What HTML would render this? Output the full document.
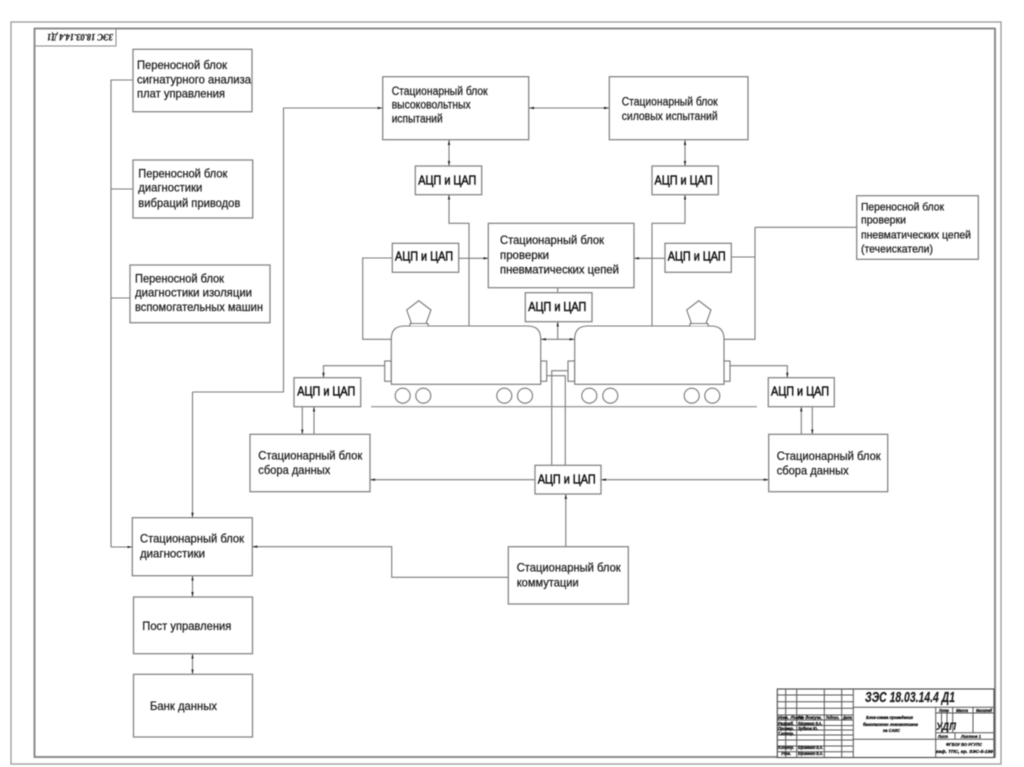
<!DOCTYPE html>
<html lang="ru"><head><meta charset="utf-8"><title>Блок-схема</title>
<style>
html,body{margin:0;padding:0;background:#fff;width:1024px;height:767px;overflow:hidden}
svg{display:block;filter:blur(.5px)}
text{font-family:"Liberation Sans",sans-serif;font-size:12px;fill:#1c1c1c;stroke:#1c1c1c;stroke-width:.25}
.a{font-size:12.5px;stroke-width:.5;fill:#111;stroke:#111}
.b{fill:#fff;stroke:#858585;stroke-width:1.3}
.l{fill:none;stroke:#7a7a7a;stroke-width:1.1}
.f{fill:none;stroke:#808080;stroke-width:1.8}
.t{fill:none;stroke:#555;stroke-width:1}
.s{font-size:4.5px;font-weight:bold;font-style:italic;stroke:#111;stroke-width:.3;fill:#111}
</style></head><body>
<svg width="1024" height="767" viewBox="0 0 1024 767" xmlns="http://www.w3.org/2000/svg">
<defs>
<marker id="e" viewBox="0 0 5 3" refX="5" refY="1.5" markerWidth="5" markerHeight="3" markerUnits="userSpaceOnUse" orient="auto-start-reverse"><path d="M0 .3L5 1.5L0 2.7z" fill="#222"/></marker>
</defs>
<rect width="1024" height="767" fill="#fff"/>
<rect x="11" y="22" width="990" height="742" fill="none" stroke="#999" stroke-width="1.3"/>
<rect x="34.5" y="28.5" width="960.5" height="728.5" class="f"/>
<rect x="34.5" y="28.5" width="81.5" height="17.5" fill="none" stroke="#888" stroke-width="1"/>
<text transform="rotate(180 80 37.5)" x="47" y="41" textLength="66" lengthAdjust="spacingAndGlyphs" style="font-family:'Liberation Serif',serif;font-style:italic;font-size:9.5px;font-weight:bold">ЗЭС 18.03.14.4 Д1</text>

<!-- connectors -->
<g class="l">
<path d="M111 547V80H133M111 189H133M111 298H130"/>
<path d="M111 547H132.3" marker-end="url(#e)"/>
<path d="M192.5 392V517.7" marker-end="url(#e)"/>
<path d="M192.5 392H283.5V108H382.7" marker-end="url(#e)"/>
<path d="M529 108H609" marker-start="url(#e)" marker-end="url(#e)"/>
<path d="M449 140V166" marker-start="url(#e)" marker-end="url(#e)"/>
<path d="M685 140V166" marker-start="url(#e)" marker-end="url(#e)"/>
<path d="M469 326V223.3H449V194.7" marker-end="url(#e)"/>
<path d="M652 326V223.3H685V194.7" marker-end="url(#e)"/>
<path d="M459 258.3H488.3" marker-end="url(#e)"/>
<path d="M665 258.3H634" marker-end="url(#e)"/>
<path d="M392.3 258H362.7V339.3H391"/>
<path d="M731.3 257H755M755 227.3H856.7M755 227.3V339.3H724.5"/>
<path d="M557.7 287.7V292.7"/>
<path d="M557.7 339.3V321.7" marker-end="url(#e)"/>
<path d="M557.7 339.3H541" marker-end="url(#e)"/>
<path d="M557.7 339.3H574.5" marker-end="url(#e)"/>
<path d="M385 365.7H323.5V377.7" marker-end="url(#e)"/>
<path d="M730 365.7H787.3V377.7" marker-end="url(#e)"/>
<path d="M302.3 406.7V434.3" marker-end="url(#e)"/>
<path d="M314 434.3V406.7" marker-end="url(#e)"/>
<path d="M801.3 434.3V406.7" marker-end="url(#e)"/>
<path d="M812.3 406.7V434.3" marker-end="url(#e)"/>
<path d="M535 479.7H370" marker-end="url(#e)"/>
<path d="M768.7 479.7H601" marker-start="url(#e)" marker-end="url(#e)"/>
<path d="M551.7 465.3V370.7H568M565.3 465.3V375.7H546.7"/>
<path d="M565.8 546.7V494" marker-end="url(#e)"/>
<path d="M508.3 577.3H391.7V546.7H252.3" marker-end="url(#e)"/>
<path d="M192.5 575.7V597" marker-start="url(#e)" marker-end="url(#e)"/>
<path d="M192.5 653.7V674.3" marker-start="url(#e)" marker-end="url(#e)"/>
<path d="M371 406.7H757" stroke="#888"/>
</g>

<!-- boxes -->
<rect class="b" x="133" y="49.3" width="119" height="62.4"/>
<rect class="b" x="133" y="160" width="119.7" height="58"/>
<rect class="b" x="130" y="265" width="140" height="57.7"/>
<rect class="b" x="382.7" y="76.7" width="146" height="63"/>
<rect class="b" x="609.3" y="76.7" width="138.7" height="63"/>
<rect class="b" x="488.3" y="223.3" width="145.7" height="64.4"/>
<rect class="b" x="856.7" y="195.7" width="121.6" height="63.6"/>
<rect class="b" x="415.3" y="166" width="66.4" height="28.7"/>
<rect class="b" x="652" y="166" width="66.3" height="28.7"/>
<rect class="b" x="392.3" y="243.3" width="66.4" height="29"/>
<rect class="b" x="665" y="243.3" width="66.3" height="29"/>
<rect class="b" x="525.3" y="292.7" width="66.7" height="29"/>
<rect class="b" x="294" y="377.7" width="66.7" height="29"/>
<rect class="b" x="768.3" y="377.7" width="66" height="29"/>
<rect class="b" x="535" y="465.3" width="66" height="28.7"/>
<rect class="b" x="250" y="434.3" width="120" height="57.4"/>
<rect class="b" x="768.7" y="434.3" width="119" height="57.4"/>
<rect class="b" x="132.3" y="517.7" width="120" height="58"/>
<rect class="b" x="133.5" y="597" width="119" height="56.7"/>
<rect class="b" x="133.5" y="674.3" width="119" height="62.7"/>
<rect class="b" x="508.3" y="546.7" width="120" height="57.3"/>

<!-- cars -->
<g fill="#fff" stroke="#777" stroke-width="1.1">
<rect x="384.7" y="361" width="6.6" height="20.3"/><rect x="540.7" y="361" width="6" height="20.3"/>
<rect x="568" y="361" width="6.7" height="20.3"/><rect x="724" y="361" width="6" height="20.3"/>
<path d="M391.3 384.3V339Q391.3 326 404.3 326H527.7Q540.7 326 540.7 339V384.3Z"/>
<path d="M574.7 384.3V339Q574.7 326 587.7 326H711Q724 326 724 339V384.3Z"/>
<path d="M411.5 323.5L406.7 310 418.7 300.7 431 310 426 323.5Z"/>
<path d="M410 326V323.5H428V326"/>
<path d="M691.5 323.5L686.7 310 698.7 300.7 711 310 706 323.5Z"/>
<path d="M690 326V323.5H708V326"/>
<circle cx="402.7" cy="395.7" r="7.5"/><circle cx="423.3" cy="395.7" r="7.5"/>
<circle cx="504.3" cy="395.7" r="7.5"/><circle cx="525" cy="395.7" r="7.5"/>
<circle cx="589.3" cy="395.7" r="7.5"/><circle cx="610.3" cy="395.7" r="7.5"/>
<circle cx="691.7" cy="395.7" r="7.5"/><circle cx="712.3" cy="395.7" r="7.5"/>
</g>

<!-- labels -->
<g>
<text x="137" y="69" textLength="90" lengthAdjust="spacingAndGlyphs">Переносной блок</text>
<text x="137" y="83.5" textLength="114" lengthAdjust="spacingAndGlyphs">сигнатурного анализа</text>
<text x="137" y="97.7" textLength="88" lengthAdjust="spacingAndGlyphs">плат управления</text>
<text x="138.3" y="177.7" textLength="89" lengthAdjust="spacingAndGlyphs">Переносной блок</text>
<text x="138.3" y="191.7" textLength="64" lengthAdjust="spacingAndGlyphs">диагностики</text>
<text x="138.3" y="207" textLength="102" lengthAdjust="spacingAndGlyphs">вибраций приводов</text>
<text x="135" y="282.7" textLength="89" lengthAdjust="spacingAndGlyphs">Переносной блок</text>
<text x="135" y="296.7" textLength="117" lengthAdjust="spacingAndGlyphs">диагностики изоляции</text>
<text x="135" y="311" textLength="128" lengthAdjust="spacingAndGlyphs">вспомогательных машин</text>
<text x="391.7" y="95" textLength="96" lengthAdjust="spacingAndGlyphs" style="font-size:11.5px">Стационарный блок</text>
<text x="391.7" y="108.3" textLength="79" lengthAdjust="spacingAndGlyphs" style="font-size:11.5px">высоковольтных</text>
<text x="391.7" y="122.3" textLength="51" lengthAdjust="spacingAndGlyphs" style="font-size:11.5px">испытаний</text>
<text x="621.7" y="105.7" textLength="96" lengthAdjust="spacingAndGlyphs" style="font-size:11.5px">Стационарный блок</text>
<text x="621.7" y="120" textLength="96" lengthAdjust="spacingAndGlyphs" style="font-size:11.5px">силовых испытаний</text>
<text x="500" y="244" textLength="104" lengthAdjust="spacingAndGlyphs">Стационарный блок</text>
<text x="500" y="259" textLength="49" lengthAdjust="spacingAndGlyphs">проверки</text>
<text x="500" y="273.3" textLength="119" lengthAdjust="spacingAndGlyphs">пневматических цепей</text>
<text x="861" y="210.7" textLength="83" lengthAdjust="spacingAndGlyphs" style="font-size:11px">Переносной блок</text>
<text x="861" y="223.3" textLength="45" lengthAdjust="spacingAndGlyphs" style="font-size:11px">проверки</text>
<text x="861" y="238.3" textLength="110" lengthAdjust="spacingAndGlyphs" style="font-size:11px">пневматических цепей</text>
<text x="861" y="252.3" textLength="72" lengthAdjust="spacingAndGlyphs" style="font-size:11px">(течеискатели)</text>
<text x="258.3" y="459.3" textLength="104" lengthAdjust="spacingAndGlyphs">Стационарный блок</text>
<text x="258.3" y="474" textLength="72" lengthAdjust="spacingAndGlyphs">сбора данных</text>
<text x="776.7" y="460" textLength="104" lengthAdjust="spacingAndGlyphs">Стационарный блок</text>
<text x="776.7" y="474.3" textLength="72" lengthAdjust="spacingAndGlyphs">сбора данных</text>
<text x="140" y="542.7" textLength="104" lengthAdjust="spacingAndGlyphs">Стационарный блок</text>
<text x="140" y="557.3" textLength="65" lengthAdjust="spacingAndGlyphs">диагностики</text>
<text x="142.3" y="630" textLength="89" lengthAdjust="spacingAndGlyphs">Пост управления</text>
<text x="150" y="710" textLength="67" lengthAdjust="spacingAndGlyphs">Банк данных</text>
<text x="516.7" y="571.7" textLength="104" lengthAdjust="spacingAndGlyphs">Стационарный блок</text>
<text x="516.7" y="586.7" textLength="62" lengthAdjust="spacingAndGlyphs">коммутации</text>

<text class="a" x="418.3" y="184.3" textLength="58" lengthAdjust="spacingAndGlyphs">АЦП и ЦАП</text>
<text class="a" x="654.5" y="184.3" textLength="58" lengthAdjust="spacingAndGlyphs">АЦП и ЦАП</text>
<text class="a" x="395" y="260.7" textLength="58" lengthAdjust="spacingAndGlyphs">АЦП и ЦАП</text>
<text class="a" x="667.7" y="260.7" textLength="58" lengthAdjust="spacingAndGlyphs">АЦП и ЦАП</text>
<text class="a" x="528.3" y="311" textLength="58" lengthAdjust="spacingAndGlyphs">АЦП и ЦАП</text>
<text class="a" x="297.3" y="395.3" textLength="58" lengthAdjust="spacingAndGlyphs">АЦП и ЦАП</text>
<text class="a" x="771" y="395.7" textLength="58" lengthAdjust="spacingAndGlyphs">АЦП и ЦАП</text>
<text class="a" x="537.7" y="483.3" textLength="58" lengthAdjust="spacingAndGlyphs">АЦП и ЦАП</text>
</g>

<!-- title block -->
<rect x="777.3" y="689" width="216.7" height="68.5" fill="#fff" stroke="#444" stroke-width="1.1"/>
<path class="t" d="M785.7 689V757.5M796.7 689V757.5M824.3 689V757.5M841.7 689V757.5M853.3 689V757.5"/>
<path class="t" d="M777.3 695H853.3M777.3 701.7H853.3M777.3 708.3H853.3M777.3 715H853.3M777.3 720H853.3M777.3 725.5H853.3M777.3 730H853.3M777.3 735H853.3M777.3 740H853.3M777.3 746H853.3M777.3 751.7H853.3"/>
<path class="t" d="M853.3 707.3H994M853.3 739.3H994M935.7 707.3V757.5M935.7 713H994M952.7 707.3V732.7M973 707.3V732.7M941.5 713V732.7M947 713V732.7M935.7 732.7H994M955 732.7V739.3"/>
<text x="865" y="702" textLength="90" lengthAdjust="spacingAndGlyphs" style="font-size:15px;font-style:italic;font-weight:bold;stroke-width:.2">ЗЭС 18.03.14.4 Д1</text>
<text class="s" x="866" y="719" textLength="47" lengthAdjust="spacingAndGlyphs">Блок-схема проведения</text>
<text class="s" x="863" y="726" textLength="55" lengthAdjust="spacingAndGlyphs">безопасного локомотивов</text>
<text class="s" x="883" y="732" textLength="17" lengthAdjust="spacingAndGlyphs">на САИС</text>
<text x="936" y="730" textLength="20" lengthAdjust="spacingAndGlyphs" style="font-size:11px;font-style:italic;font-weight:bold;stroke-width:.1">УДП</text>
<text class="s" x="939" y="712" textLength="10" lengthAdjust="spacingAndGlyphs">Литер</text>
<text class="s" x="956" y="712" textLength="12" lengthAdjust="spacingAndGlyphs">Масса</text>
<text class="s" x="976" y="712" textLength="16" lengthAdjust="spacingAndGlyphs">Масштаб</text>
<text class="s" x="938" y="738" textLength="10" lengthAdjust="spacingAndGlyphs">Лист</text>
<text class="s" x="961" y="738" textLength="20" lengthAdjust="spacingAndGlyphs">Листов 1</text>
<text class="s" x="946" y="746" textLength="36" lengthAdjust="spacingAndGlyphs">ФГБОУ ВО РГУПС</text>
<text class="s" x="936" y="753" textLength="57" lengthAdjust="spacingAndGlyphs">каф. ТПС, гр. ЗЭС-5-199</text>
<text class="s" x="778" y="719" textLength="26" lengthAdjust="spacingAndGlyphs">Изм. Лист</text>
<text class="s" x="798" y="719" textLength="24" lengthAdjust="spacingAndGlyphs">№ докум.</text>
<text class="s" x="826" y="719" textLength="13" lengthAdjust="spacingAndGlyphs">Подпись</text>
<text class="s" x="843" y="719" textLength="9" lengthAdjust="spacingAndGlyphs">Дата</text>
<text class="s" x="778" y="725" textLength="16" lengthAdjust="spacingAndGlyphs">Разраб.</text>
<text class="s" x="798" y="725" textLength="24" lengthAdjust="spacingAndGlyphs">Ефименко В.А.</text>
<text class="s" x="778" y="730" textLength="16" lengthAdjust="spacingAndGlyphs">Провер.</text>
<text class="s" x="798" y="730" textLength="20" lengthAdjust="spacingAndGlyphs">Зубков Ю.</text>
<text class="s" x="778" y="735" textLength="16" lengthAdjust="spacingAndGlyphs">Т.контр.</text>
<text class="s" x="778" y="749" textLength="16" lengthAdjust="spacingAndGlyphs">Н.контр.</text>
<text class="s" x="798" y="749" textLength="25" lengthAdjust="spacingAndGlyphs">Ефименко В.А.</text>
<text class="s" x="781" y="755" textLength="10" lengthAdjust="spacingAndGlyphs">Утв.</text>
<text class="s" x="798" y="755" textLength="25" lengthAdjust="spacingAndGlyphs">Ефименко В.А.</text>
</svg>
</body></html>
